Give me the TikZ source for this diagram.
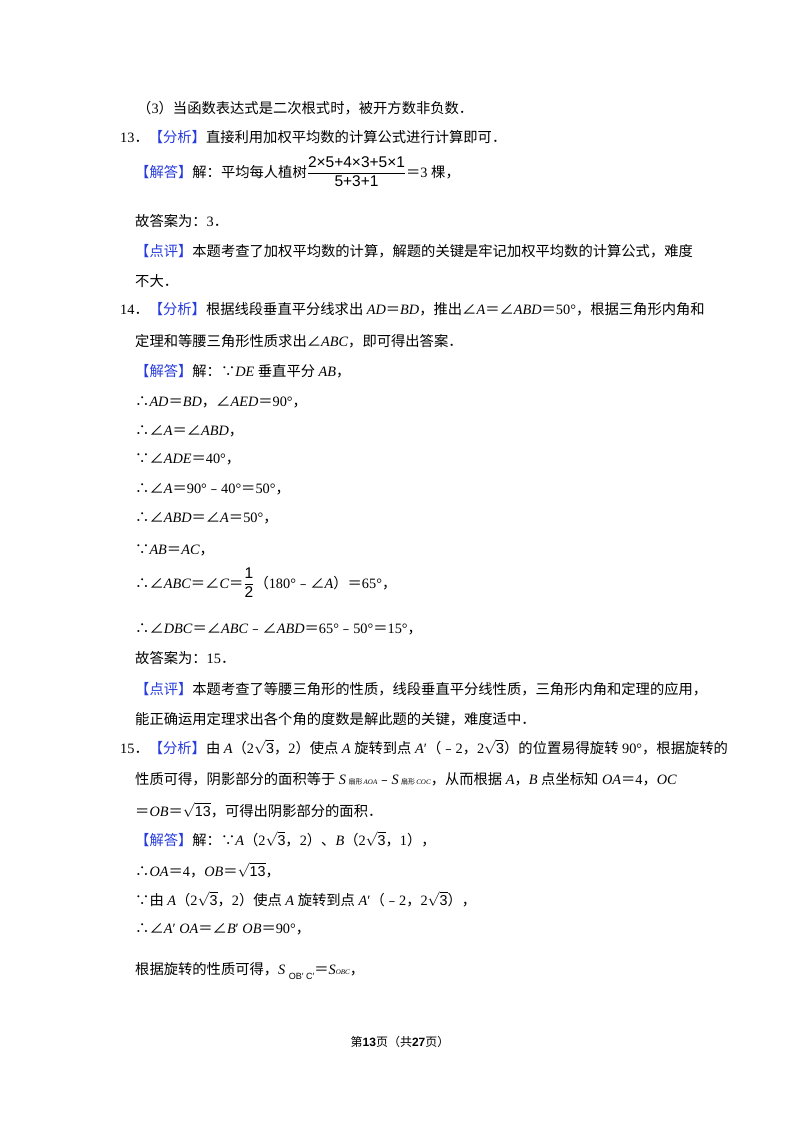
\documentclass[tikz,border=0pt]{standalone}
\usepackage{amsmath}
\usepackage{fontspec}
\setmainfont{Liberation Serif}
\setsansfont{Liberation Sans}
\newfontfamily\cjk[ItalicFont={Noto Sans CJK SC}]{Noto Sans CJK SC}
\XeTeXinterchartokenstate=1
\newXeTeXintercharclass\CJKcls
\def\setcls#1#2{\count255=#1 \loop\XeTeXcharclass\count255=\CJKcls \advance\count255 by 1 \ifnum\count255<#2 \repeat}
\setcls{"4E00}{"A000}
\setcls{"3000}{"3040}
\setcls{"FF00}{"FFF0}
\setcls{"FE30}{"FE70}
\XeTeXcharclass"2234=\CJKcls
\XeTeXcharclass"2235=\CJKcls
\XeTeXcharclass"2220=\CJKcls
\XeTeXinterchartoks 0 \CJKcls={\cjk}
\XeTeXinterchartoks 4095 \CJKcls={\cjk}
\XeTeXinterchartoks \CJKcls 0={\rmfamily}
\XeTeXinterchartoks \CJKcls 4095={\rmfamily}
\definecolor{lbl}{RGB}{40,60,220}
\newcommand\lb[1]{\textcolor{lbl}{#1}}
\newcommand\sq[1]{$\sqrt{\textsf{#1}}$}
\newcommand\fs[1]{\mbox{\fontsize{15.5}{18}\selectfont\sffamily #1}}
\begin{document}
\begin{tikzpicture}[x=1pt,y=-1pt,
  ln/.style={anchor=base west,inner sep=0pt,font=\fontsize{14.3}{17}\selectfont}]
\useasboundingbox[fill=white] (0,0) rectangle (800,1132);
\node[ln] (l1) at (137,113) {（3）当函数表达式是二次根式时，被开方数非负数．};
\node[ln] (l2) at (120,142) {13．\lb{【分析】}直接利用加权平均数的计算公式进行计算即可．};
\node[ln] (l3) at (135,177) {\lb{【解答】}解：平均每人植树$\dfrac{\fs{2×5+4×3+5×1}}{\fs{5+3+1}}$＝3 棵，};
\node[ln] (l4) at (135,226) {故答案为：3．};
\node[ln] (l5) at (135,256) {\lb{【点评】}本题考查了加权平均数的计算，解题的关键是牢记加权平均数的计算公式，难度};
\node[ln] (l6) at (135,286) {不大．};
\node[ln] (l7) at (120,314) {14．\lb{【分析】}根据线段垂直平分线求出 \textit{AD}＝\textit{BD}，推出∠\textit{A}＝∠\textit{ABD}＝50°，根据三角形内角和};
\node[ln] (l8) at (135,346) {定理和等腰三角形性质求出∠\textit{ABC}，即可得出答案．};
\node[ln] (l9) at (135,376) {\lb{【解答】}解：∵\textit{DE} 垂直平分 \textit{AB}，};
\node[ln] (l10) at (135,406) {∴\textit{AD}＝\textit{BD}，∠\textit{AED}＝90°，};
\node[ln] (l11) at (135,435) {∴∠\textit{A}＝∠\textit{ABD}，};
\node[ln] (l12) at (135,463) {∵∠\textit{ADE}＝40°，};
\node[ln] (l13) at (135,493) {∴∠\textit{A}＝90°﹣40°＝50°，};
\node[ln] (l14) at (135,522) {∴∠\textit{ABD}＝∠\textit{A}＝50°，};
\node[ln] (l15) at (135,554) {∵\textit{AB}＝\textit{AC}，};
\node[ln] (l16) at (135,588) {∴∠\textit{ABC}＝∠\textit{C}＝$\dfrac{\fs{1}}{\fs{2}}$（180°﹣∠\textit{A}）＝65°，};
\node[ln] (l17) at (135,633) {∴∠\textit{DBC}＝∠\textit{ABC}﹣∠\textit{ABD}＝65°﹣50°＝15°，};
\node[ln] (l18) at (135,663) {故答案为：15．};
\node[ln] (l19) at (135,694) {\lb{【点评】}本题考查了等腰三角形的性质，线段垂直平分线性质，三角形内角和定理的应用，};
\node[ln] (l20) at (135,724) {能正确运用定理求出各个角的度数是解此题的关键，难度适中．};
\node[ln] (l21) at (120,753) {15．\lb{【分析】}由 \textit{A}（2\sq{3}，2）使点 \textit{A} 旋转到点 \textit{A}′（﹣2，2\sq{3}）的位置易得旋转 90°，根据旋转的};
\node[ln] (l22) at (135,784) {性质可得，阴影部分的面积等于 \textit{S}\,{\scriptsize 扇形\,\textit{AOA}}﹣\textit{S}\,{\scriptsize 扇形\,\textit{COC}}，从而根据 \textit{A}，\textit{B} 点坐标知 \textit{OA}＝4，\textit{OC}};
\node[ln] (l23) at (135,816) {＝\textit{OB}＝\sq{13}，可得出阴影部分的面积．};
\node[ln] (l24) at (135,845) {\lb{【解答】}解：∵\textit{A}（2\sq{3}，2）、\textit{B}（2\sq{3}，1），};
\node[ln] (l25) at (135,876) {∴\textit{OA}＝4，\textit{OB}＝\sq{13}，};
\node[ln] (l26) at (135,905) {∵由 \textit{A}（2\sq{3}，2）使点 \textit{A} 旋转到点 \textit{A}′（﹣2，2\sq{3}），};
\node[ln] (l27) at (135,933) {∴∠\textit{A}′ \textit{OA}＝∠\textit{B}′ \textit{OB}＝90°，};
\node[ln] (l28) at (135,974) {根据旋转的性质可得，\textit{S} \raisebox{-5pt}{\sffamily\small OB′ C′}＝\textit{S}{\scriptsize\textit{OBC}}，};
\node[anchor=base,inner sep=0pt,font=\fontsize{12}{14}\selectfont] (ft) at (400,1046) {第\textbf{\textsf{13}}页（共\textbf{\textsf{27}}页）};
\end{tikzpicture}
\end{document}
